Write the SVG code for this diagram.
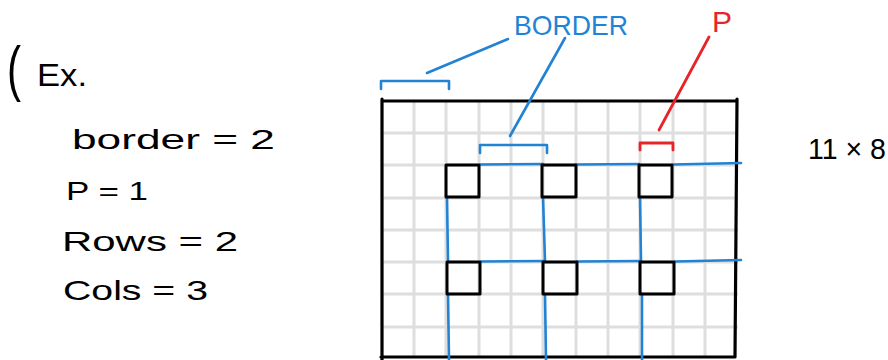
<svg xmlns="http://www.w3.org/2000/svg" width="888" height="360" viewBox="0 0 888 360">
<style>
.grid{stroke:#dedede;stroke-width:3;fill:none}
.frame{stroke:#000;stroke-width:3.2;fill:none;stroke-linecap:round;stroke-linejoin:round}
.cell{stroke:#000;stroke-width:3;fill:none;stroke-linejoin:round}
.blue{stroke:#2283d4;stroke-width:2.6;fill:none;stroke-linecap:round;stroke-linejoin:round}
.red{stroke:#e8242b;stroke-width:2.8;fill:none;stroke-linecap:round;stroke-linejoin:round}
.hand{font-family:"Liberation Sans","DejaVu Sans",sans-serif;fill:#000}
</style>
<rect width="888" height="360" fill="#fff"/>
<g id="grid">
<path class="grid" d="M414 101V357M446 101V357M479 101V357M511 101V357M543 101V357M576 101V357M608 101V357M640 101V357M673 101V357M705 101V357"/>
<path class="grid" d="M382 133H738M382 165H738M382 198H738M382 230H738M382 262H738M382 294H738M382 327H738"/>
</g>
<g id="frame">
<path class="frame" d="M382 99L382 360M382 101L737 101L737 99M737 101L735 357M381 357L735 357"/>
</g>
<g id="connectors">
<path class="blue" d="M480 164.5L543 164M576 164.5L639 164M673 164.5L741 163"/>
<path class="blue" d="M481 261.5L544 261M577 261.5L641 261M675 261.5L741 260"/>
<path class="blue" d="M447 197L448 261M448 294L449 360M543 197L545 261M545 294L546 360M640 197L641 261M642 294L642 360"/>
</g>
<g id="cells">
<rect class="cell" x="446" y="165" width="33" height="32"/>
<rect class="cell" x="542" y="165" width="34" height="32"/>
<rect class="cell" x="639" y="165" width="33" height="32"/>
<rect class="cell" x="447" y="262" width="33" height="32"/>
<rect class="cell" x="543" y="262" width="34" height="32"/>
<rect class="cell" x="640" y="262" width="34" height="32"/>
</g>
<g id="border-label">
<path class="blue" d="M381 89L381 81L449 81L449 89"/>
<path class="blue" d="M427 73L508 39"/>
<path class="blue" d="M480 153L480 145L547 145L547 153"/>
<path class="blue" d="M510 136L565 38"/>
<text class="hand" x="514" y="35" font-size="28" style="fill:#2283d4" textLength="114" lengthAdjust="spacingAndGlyphs">BORDER</text>
</g>
<g id="p-label">
<path class="red" d="M640 150L640 143L673 143L673 150"/>
<path class="red" d="M659 130L709 37"/>
<text class="hand" x="712" y="32" font-size="30" style="fill:#e8242b">P</text>
</g>
<g id="notes">
<text class="hand" x="7" y="89" font-size="62" textLength="14" lengthAdjust="spacingAndGlyphs">(</text>
<text class="hand" x="37" y="86" font-size="31" textLength="50" lengthAdjust="spacingAndGlyphs">Ex.</text>
<text class="hand" x="72" y="149" font-size="27" textLength="203" lengthAdjust="spacingAndGlyphs">border = 2</text>
<text class="hand" x="66" y="200" font-size="26" textLength="82" lengthAdjust="spacingAndGlyphs">P = 1</text>
<text class="hand" x="62" y="251" font-size="28" textLength="176" lengthAdjust="spacingAndGlyphs">Rows = 2</text>
<text class="hand" x="63" y="300" font-size="28" textLength="145" lengthAdjust="spacingAndGlyphs">Cols = 3</text>
<text class="hand" x="808" y="159" font-size="29" textLength="78" lengthAdjust="spacingAndGlyphs">11 × 8</text>
</g>
</svg>
